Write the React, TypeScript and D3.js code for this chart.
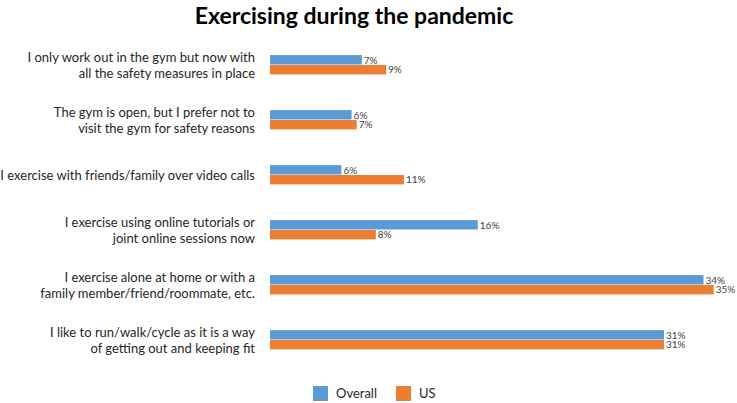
import React from "react";
import * as d3 from "d3";

const categories: string[][] = [
  ["I only work out in the gym but now with", "all the safety measures in place"],
  ["The gym is open, but I prefer not to", "visit the gym for safety reasons"],
  ["I exercise with friends/family over video calls"],
  ["I exercise using online tutorials or", "joint online sessions now"],
  ["I exercise alone at home or with a", "family member/friend/roommate, etc."],
  ["I like to run/walk/cycle as it is a way", "of getting out and keeping fit"],
];
const seriesNames = ["Overall", "US"];
const overallValues = [7.2, 6.4, 5.6, 16.3, 34.0, 30.9];
const usValues = [9.1, 6.8, 10.5, 8.3, 34.8, 30.9];
const colors = ["#5B9BD5", "#ED7D31"];
const title = "Exercising during the pandemic";

const W = 737;
const H = 403;
const FONT = "Lato, 'Open Sans', sans-serif";

export default function App() {
  const keys = categories.map((_, i) => String(i));
  const x = d3.scaleLinear().domain([0, 1]).range([270, 270 + 1275]);
  const y = d3
    .scaleBand<string>()
    .domain(keys)
    .range([37.5, 367.5])
    .paddingInner(0.64)
    .paddingOuter(0.32);
  const sub = d3
    .scaleBand<string>()
    .domain(seriesNames)
    .range([0, y.bandwidth()])
    .padding(0);
  const series = [overallValues, usValues];
  const fmt = (v: number) => `${Math.round(v)}%`;

  return (
    <svg
      width={W}
      height={H}
      style={{ position: "absolute", left: 0, top: 0, background: "#fff" }}
      fontFamily={FONT}
    >
      <text
        x={354}
        y={24}
        textAnchor="middle"
        fontSize={23}
        fontWeight="bold"
        fill="#000"
      >
        {title}
      </text>
      {keys.map((k, i) => {
        const lines = categories[i];
        const cy = (y(k) ?? 0) + y.bandwidth() / 2;
        const lh = 16;
        return (
          <text
            key={"c" + k}
            x={255}
            textAnchor="end"
            fontSize={13}
            fill="#262626"
          >
            {lines.map((l, j) => (
              <tspan
                key={j}
                x={255}
                y={cy + (j - (lines.length - 1) / 2) * lh}
                dy="0.35em"
              >
                {l}
              </tspan>
            ))}
          </text>
        );
      })}
      {series.map((vals, si) =>
        vals.map((v, i) => {
          const y0 = (y(keys[i]) ?? 0) + (sub(seriesNames[si]) ?? 0);
          const x1 = x(v / 100);
          return (
            <g key={si + "-" + i}>
              <rect
                x={x(0)}
                y={y0}
                width={x1 - x(0)}
                height={sub.bandwidth() - 0.5}
                fill={colors[si]}
              />
              <text
                x={x1 + 2}
                y={y0 + sub.bandwidth() / 2}
                dy="0.35em"
                fontSize={10}
                fill="#404040"
              >
                {fmt(v)}
              </text>
            </g>
          );
        })
      )}
      {seriesNames.map((s, si) => {
        const lx = [313, 396][si];
        return (
          <g key={"l" + s}>
            <rect x={lx} y={386} width={15} height={15} fill={colors[si]} />
            <text
              x={lx + 23}
              y={393.5}
              dy="0.35em"
              fontSize={13}
              fill="#262626"
            >
              {s}
            </text>
          </g>
        );
      })}
    </svg>
  );
}
